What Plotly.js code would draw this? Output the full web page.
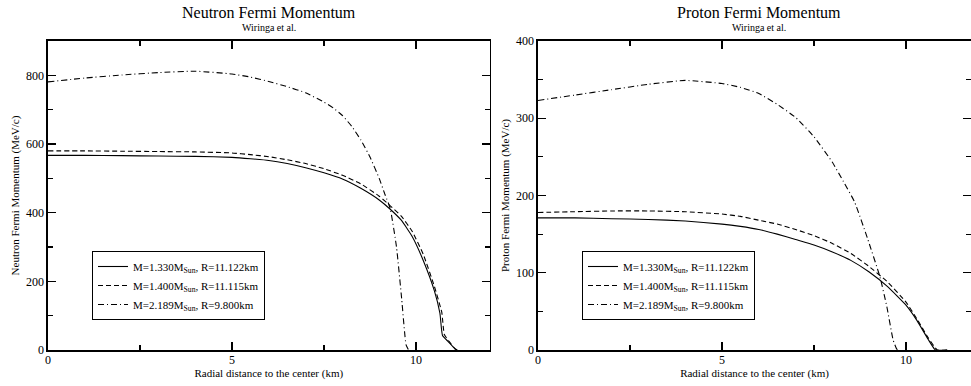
<!DOCTYPE html>
<html>
<head>
<meta charset="utf-8">
<script src="https://cdn.plot.ly/plotly-3.0.1.min.js"></script>
<style>html,body{margin:0;padding:0;background:#fff;}#chart{width:971px;height:386px;}</style>
</head>
<body>
<div id="chart"></div>
<script>
// ---------- Neutron Fermi momentum (MeV/c) ----------
const nX133 = [0, 1, 2, 3, 4, 5, 5.5, 6, 6.5, 7, 7.5, 8, 8.5, 9, 9.3, 9.6, 9.9, 10.2, 10.5, 10.65, 10.72, 10.88, 11.06, 11.122];
const nY133 = [567, 567, 566, 565, 564, 561, 557, 552, 543, 531, 516, 498, 471, 437, 410, 378, 330, 260, 172, 107, 42, 24, 3, 0];
const nX140 = [0, 1, 2, 3, 4, 5, 5.5, 6, 6.5, 7, 7.5, 8, 8.5, 9, 9.3, 9.6, 9.9, 10.2, 10.5, 10.7, 10.77, 10.92, 11.06, 11.115];
const nY140 = [580, 580, 579, 578, 577, 574, 569, 563, 554, 543, 528, 509, 484, 448, 420, 390, 345, 278, 185, 110, 45, 22, 4, 0];
const nX219 = [0, 1, 2, 3, 4, 5, 5.5, 6, 6.5, 7, 7.5, 7.75, 8, 8.25, 8.5, 8.75, 9, 9.15, 9.3, 9.47, 9.61, 9.73, 9.8];
const nY219 = [781, 792, 801, 808, 812, 804, 795, 782, 767, 749, 722, 705, 683, 652, 612, 562, 500, 455, 412, 300, 150, 15, 0];

// ---------- Proton Fermi momentum (MeV/c) ----------
const pX133 = [0, 1, 2, 3, 4, 5, 5.5, 6, 6.5, 7, 7.5, 8, 8.5, 9, 9.5, 10, 10.3, 10.6, 10.8, 11.122];
const pY133 = [171, 171, 170, 169, 167, 163, 160, 156, 150, 143, 136, 127, 116, 101, 82, 58, 38, 14, 0, 0];
const pX140 = [0, 1, 2, 3, 4, 5, 5.5, 6, 6.5, 7, 7.5, 8, 8.5, 9, 9.5, 10, 10.3, 10.6, 10.85, 11.115];
const pY140 = [178, 179, 180, 180, 179, 176, 173, 168, 163, 156, 148, 138, 125, 108, 88, 62, 40, 16, 0, 0];
const pX219 = [0, 1, 2, 3, 4, 5, 5.5, 6, 6.5, 7, 7.5, 8, 8.3, 8.6, 8.95, 9.29, 9.48, 9.65, 9.75, 9.8];
const pY219 = [323, 330, 337, 344, 349, 345, 340, 332, 318, 301, 276, 243, 218, 192, 145, 95, 56, 13, 1, 0];

const names = ["M=1.330M<sub>Sun</sub>, R=11.122km", "M=1.400M<sub>Sun</sub>, R=11.115km", "M=2.189M<sub>Sun</sub>, R=9.800km"];
const dashes = ["solid", "5px,3px", "6px,3px,1px,3px"];

const FONT = "Liberation Serif";

function tr(x, y, i, xa, ya, leg) {
  return {x: x, y: y, name: names[i], type: "scatter", mode: "lines",
    xaxis: xa, yaxis: ya, legend: leg,
    line: {color: "#000", width: 1.1, dash: dashes[i], shape: "spline", smoothing: 0.4}};
}

const data = [
  tr(nX133, nY133, 0, "x", "y", "legend"),
  tr(nX140, nY140, 1, "x", "y", "legend"),
  tr(nX219, nY219, 2, "x", "y", "legend"),
  tr(pX133, pY133, 0, "x2", "y2", "legend2"),
  tr(pX140, pY140, 1, "x2", "y2", "legend2"),
  tr(pX219, pY219, 2, "x2", "y2", "legend2")
];

const W = 971, H = 386;
const yDom = [36 / H, 345 / H];
function xax(dom, rng) {
  return {domain: dom, range: rng, dtick: 5, tick0: 0, ticks: "inside", ticklen: 8, tickwidth: 1.2,
    tickcolor: "#000", showline: true, linecolor: "#000", linewidth: 1.6, mirror: "ticks",
    showgrid: false, zeroline: false, tickfont: {family: FONT, size: 12, color: "#000"},
    ticklabelstandoff: -2,
    minor: {dtick: 2.5, ticks: "inside", ticklen: 5, tickwidth: 1.2, tickcolor: "#000", showgrid: false},
    title: {text: "Radial distance to the center (km)", font: {family: FONT, size: 11, color: "#000"}, standoff: 0},
    automargin: false};
}
function yax(anchor, rng, dt, mdt, label, mirror) {
  return {domain: yDom, anchor: anchor, range: rng, dtick: dt, tick0: 0, ticks: "inside", ticklen: 8, tickwidth: 1.2,
    tickcolor: "#000", showline: true, linecolor: "#000", linewidth: 1.6, mirror: mirror,
    showgrid: false, zeroline: false, tickfont: {family: FONT, size: 12, color: "#000"},
    minor: {dtick: mdt, ticks: "inside", ticklen: 5, tickwidth: 1.2, tickcolor: "#000", showgrid: false},
    title: {text: label, font: {family: FONT, size: 11, color: "#000"}, standoff: 4},
    automargin: false};
}
function leg(x0) {
  return {x: x0, y: 66 / H, xref: "paper", yref: "paper", xanchor: "left", yanchor: "bottom",
    bgcolor: "#fff", bordercolor: "#000", borderwidth: 1,
    font: {family: FONT, size: 11, color: "#000"}, tracegroupgap: 0, itemwidth: 30};
}

const layout = {
  width: W, height: H,
  margin: {l: 0, r: 0, t: 0, b: 0},
  paper_bgcolor: "#fff", plot_bgcolor: "#fff",
  font: {family: FONT, color: "#000"},
  showlegend: true,
  xaxis: Object.assign(xax([48 / W, 489.6 / W], [0, 12]), {anchor: "y"}),
  yaxis: yax("x", [0, 900], 200, 100, "Neutron Fermi Momentum (MeV/c)", "ticks"),
  xaxis2: Object.assign(xax([538 / W, 1], [0, (W - 538) / 36.8]), {anchor: "y2"}),
  yaxis2: yax("x2", [0, 400], 100, 50, "Proton Fermi Momentum (MeV/c)", "ticks"),
  legend: leg(92 / W),
  legend2: leg(582 / W),
  annotations: [
    {text: "Neutron Fermi Momentum", x: 269 / W, y: 1 - 12 / H, xref: "paper", yref: "paper", showarrow: false,
      xanchor: "center", yanchor: "middle", font: {family: FONT, size: 16, color: "#000"}},
    {text: "Wiringa et al.", x: 269 / W, y: 1 - 27 / H, xref: "paper", yref: "paper", showarrow: false,
      xanchor: "center", yanchor: "middle", font: {family: FONT, size: 10, color: "#000"}},
    {text: "Proton Fermi Momentum", x: 759 / W, y: 1 - 12 / H, xref: "paper", yref: "paper", showarrow: false,
      xanchor: "center", yanchor: "middle", font: {family: FONT, size: 16, color: "#000"}},
    {text: "Wiringa et al.", x: 759 / W, y: 1 - 27 / H, xref: "paper", yref: "paper", showarrow: false,
      xanchor: "center", yanchor: "middle", font: {family: FONT, size: 10, color: "#000"}}
  ]
};

Plotly.newPlot("chart", data, layout, {staticPlot: true, displayModeBar: false});
</script>
</body>
</html>
